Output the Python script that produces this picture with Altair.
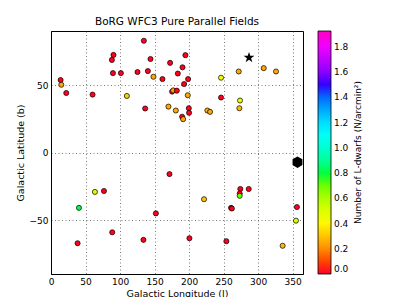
import altair as alt
import pandas as pd

# Field positions (galactic l, b) and L-dwarf number density
lon = [13.9, 14.9, 22.1, 60.2, 90.5, 88.2, 89.7, 101.2, 109.9, 134.5,
       144.1, 125.3, 140.3, 148.4, 161.4, 136.4, 172.5, 183.7, 175.4, 177.0,
       182.2, 170.1, 180.8, 194.7, 190.5, 198.6, 192.8, 198.1, 199.6, 200.0,
       189.9, 191.4, 226.5, 230.4, 246.3, 246.3, 271.9, 273.8, 272.8, 308.1,
       325.9,
       171.6, 63.6, 76.7, 40.5, 151.9, 221.7, 274.2, 286.4, 273.3,
       273.3, 260.8, 262.0, 356.2, 354.8, 88.7, 38.5, 133.9, 200.5, 254.0,
       335.5]
lat = [53.7, 50.2, 44.1, 42.9, 72.3, 68.6, 58.8, 58.8, 41.9, 82.8,
       69.3, 59.6, 60.3, 56.1, 54.4, 32.6, 66.4, 58.5, 45.1, 46.0,
       45.8, 34.0, 31.1, 72.1, 63.1, 54.4, 50.7, 42.4, 32.8, 29.4,
       26.5, 24.7, 31.1, 30.1, 55.4, 40.7, 60.0, 38.5, 32.8, 62.5,
       60.0,
       -16.0, -29.2, -28.5, -41.0, -45.1, -34.6, -27.0, -27.0, -30.4,
       -32.1, -41.0, -41.5, -40.4, -50.5, -59.1, -67.2, -64.7, -63.5, -65.7,
       -69.1]
ndens = [0.02, 0.25, 0.02, 0.02, 0.02, 0.02, 0.02, 0.02, 0.32, 0.02,
         0.02, 0.02, 0.02, 0.25, 0.02, 0.02, 0.02, 0.02, 0.02, 0.25,
         0.02, 0.25, 0.25, 0.02, 0.02, 0.02, 0.02, 0.25, 0.02, 0.02,
         0.02, 0.25, 0.25, 0.25, 0.45, 0.02, 0.25, 0.48, 0.28, 0.25,
         0.25,
         0.02, 0.50, 0.02, 0.80, 0.02, 0.30, 0.02, 0.02, 0.02,
         0.70, 0.02, 0.02, 0.02, 0.50, 0.02, 0.02, 0.02, 0.02, 0.02,
         0.28]

star_lon = [286.8]
star_lat = [70.3]
hex_lon = [357.0]
hex_lat = [-7.2]

x_ticks = [0, 50, 100, 150, 200, 250, 300, 350]
y_ticks = [-50, 0, 50]
cbar_ticks = [0.0, 0.2, 0.4, 0.6, 0.8, 1.0, 1.2, 1.4, 1.6, 1.8]
vmax = 1.925
stops = [0.0, 0.03, 0.215, 0.400, 0.586, 0.770, 0.954, 1.0]
stop_colors = ['#ff0029', '#ff0000', '#ffff00', '#00ff00', '#00ffff',
               '#0000ff', '#ff00ff', '#ff00bf']

STAR = ('M0,-1L0.2245,-0.309L0.951,-0.309L0.363,0.118L0.588,0.809L0,0.382'
        'L-0.588,0.809L-0.363,0.118L-0.951,-0.309L-0.2245,-0.309Z')
HEXAGON = 'M0,-1L0.866,-0.5L0.866,0.5L0,1L-0.866,0.5L-0.866,-0.5Z'

df = pd.DataFrame({'l': lon, 'b': lat, 'n': ndens})
df_star = pd.DataFrame({'l': star_lon, 'b': star_lat})
df_hex = pd.DataFrame({'l': hex_lon, 'b': hex_lat})

xs = alt.Scale(domain=[0, 365], nice=False, zero=False)
ys = alt.Scale(domain=[-90, 90], nice=False, zero=False)

xax = alt.Axis(title='Galactic Longitude (l)', values=x_ticks, titlePadding=2)
yax = alt.Axis(title='Galactic Latitude (b)', values=y_ticks, titlePadding=4)

X = alt.X('l:Q', scale=xs, axis=xax)
Y = alt.Y('b:Q', scale=ys, axis=yax)

cscale = alt.Scale(domain=[s * vmax for s in stops], range=stop_colors)

points = alt.Chart(df).mark_circle(size=26, stroke='black', strokeWidth=0.7, opacity=1).encode(
    x=X, y=Y,
    color=alt.Color('n:Q', scale=cscale,
                    legend=alt.Legend(orient='none', legendX=267, legendY=0,
                                      direction='vertical', title=None,
                                      gradientLength=243, gradientThickness=13,
                                      values=cbar_ticks, format='.1f',
                                      labelFontSize=9, labelColor='black',
                                      labelOverlap=False, labelOffset=3,
                                      gradientStrokeColor='black',
                                      gradientStrokeWidth=0.8)),
)

star = alt.Chart(df_star).mark_point(shape=STAR, filled=True, color='black',
                                     size=130, opacity=1).encode(x=X, y=Y)

hexa = alt.Chart(df_hex).mark_point(shape=HEXAGON, filled=True, color='black',
                                    size=130, opacity=1).encode(x=X, y=Y)

cbar_title = alt.Chart(pd.DataFrame({'t': ['Number of L-dwarfs (N/arcmin\u00b2)']})).mark_text(
    angle=270, fontSize=9, color='black', align='center', baseline='middle').encode(
    x=alt.value(307), y=alt.value(121.5), text='t:N')

chart = alt.layer(points, star, hexa, cbar_title).properties(
    width=252, height=243,
    title=alt.TitleParams('BoRG WFC3 Pure Parallel Fields', fontSize=10.5,
                          fontWeight='normal', anchor='middle', offset=4, color='black'),
    autosize=alt.AutoSizeParams(type='none'),
    padding={'left': 43, 'top': 23, 'right': 96, 'bottom': 23},
).configure(font='DejaVu Sans').configure_view(
    stroke='black', strokeWidth=1
).configure_axis(
    grid=True, gridDash=[1, 2.5], gridColor='#444', gridWidth=0.7,
    ticks=False, labelPadding=3, labelOverlap=False, labelFlush=False,
    domainColor='black', labelFontSize=9, titleFontSize=9.5,
    titleFontWeight='normal', labelColor='black', titleColor='black'
)

chart.save('out.html', embed_options={'renderer': 'svg', 'actions': False})
